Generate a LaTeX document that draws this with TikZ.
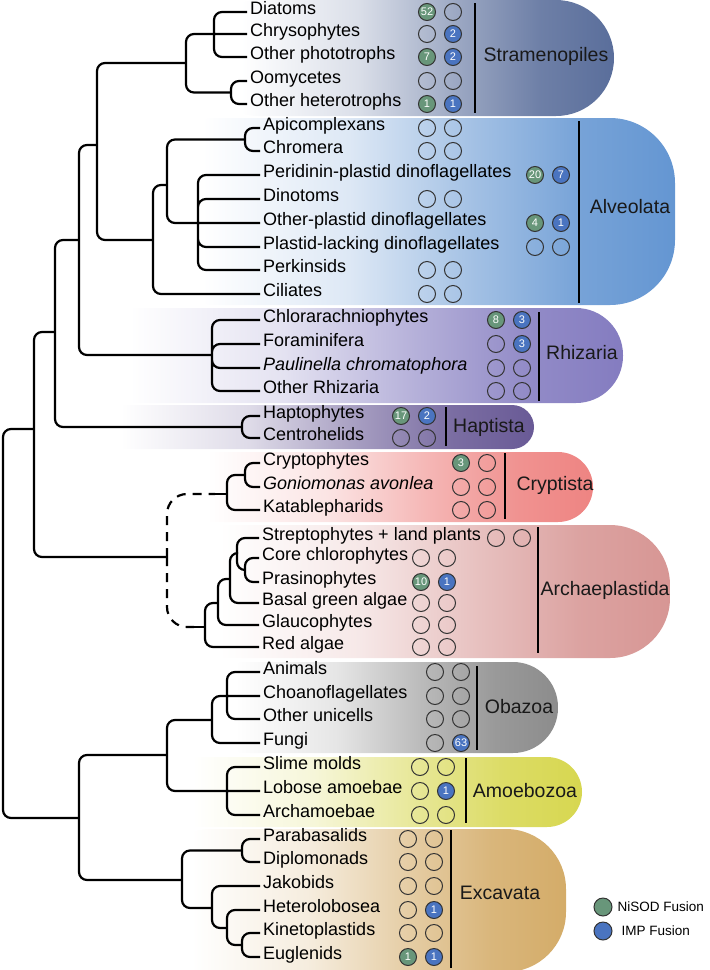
\documentclass[tikz,border=0pt]{standalone}
\usepackage{fontspec}
\setmainfont{Liberation Sans}
\usetikzlibrary{positioning}

\definecolor{nisodgreen}{RGB}{104,150,122}
\definecolor{impblue}{RGB}{74,116,192}
\definecolor{stramcol}{RGB}{90,110,155}
\definecolor{alvcol}{RGB}{100,150,210}
\definecolor{rhizcol}{RGB}{132,124,192}
\definecolor{haptcol}{RGB}{105,90,150}
\definecolor{cryptcol}{RGB}{238,132,130}
\definecolor{archcol}{RGB}{215,150,148}
\definecolor{obazcol}{RGB}{140,140,140}
\definecolor{amoecol}{RGB}{215,215,80}
\definecolor{exccol}{RGB}{212,172,105}

% white on the left, clade colour towards the rounded end
\pgfdeclarehorizontalshading[boxcol]{cladefade}{100bp}{color(0bp)=(white); color(30bp)=(white); color(44bp)=(boxcol!22!white); color(56bp)=(boxcol!60!white); color(66bp)=(boxcol!88!white); color(75bp)=(boxcol); color(100bp)=(boxcol)}

\tikzset{
    x=1pt, y=-1pt, % one unit is one pixel, y runs downwards
    branch/.style={line width=2.2pt, rounded corners=8pt}, % tree edges
    guess/.style={branch, rounded corners=20pt, dash pattern=on 9pt off 7pt}, % uncertain placement
    taxon/.style={anchor=mid west, inner xsep=3pt, inner ysep=0pt, font=\fontsize{18}{20}\selectfont},
    clade/.style={font=\fontsize{19.5}{22}\selectfont, text=black!90},
    bar/.style={line width=2.4pt},
    hit/.style={circle, draw=black!80, line width=1pt, minimum size=17pt, inner sep=0pt, text=white, font=\fontsize{11}{11}\selectfont},
    nohit/.style={hit},
    nisod/.style={hit, fill=nisodgreen},
    impf/.style={hit, fill=impblue},
}

% two marks after a taxon: NiSOD fusion, IMP fusion
\newcommand{\hits}[6]{%
    \node[#3] (#1n) at (#2) {#4};
    \node[#5, right=8pt of #1n] (#1i) {#6};
}
\newcommand{\cladebox}[4]{%
    \colorlet{boxcol}{#1}
    \shade[shading=cladefade, rounded corners=#4] (#2) rectangle (#3);
}

\begin{document}
\begin{tikzpicture}
\useasboundingbox (0,0) rectangle (710,970);

% clade boxes
\cladebox{stramcol}{200,0}{614,116}{58pt}
\cladebox{alvcol}{150,118}{675,305}{65pt}
\cladebox{rhizcol}{75,308}{623,403}{47pt}
\cladebox{haptcol}{75,405}{534,449}{22pt}
\cladebox{cryptcol}{165,452}{593,522}{35pt}
\cladebox{archcol}{170,525}{670,658}{60pt}
\cladebox{obazcol}{200,662}{558,753}{45pt}
\cladebox{amoecol}{150,757}{582,827}{35pt}
\cladebox{exccol}{150,829}{566,972}{60pt}

% taxa
\node[taxon] (diat) at (247,12) {Diatoms};
\node[taxon] (chry) at (247,34) {Chrysophytes};
\node[taxon] (opho) at (247,57) {Other phototrophs};
\node[taxon] (oomy) at (247,81) {Oomycetes};
\node[taxon] (ohet) at (247,104) {Other heterotrophs};
\node[taxon] (apic) at (260,128) {Apicomplexans};
\node[taxon] (chro) at (260,151) {Chromera};
\node[taxon] (peri) at (260,175) {Peridinin-plastid dinoflagellates};
\node[taxon] (dinot) at (260,199) {Dinotoms};
\node[taxon] (oplas) at (260,223) {Other-plastid dinoflagellates};
\node[taxon] (plac) at (260,247) {Plastid-lacking dinoflagellates};
\node[taxon] (perk) at (260,270) {Perkinsids};
\node[taxon] (cili) at (260,294) {Ciliates};
\node[taxon] (chlo) at (260,320) {Chlorarachniophytes};
\node[taxon] (fora) at (260,344) {Foraminifera};
\node[taxon] (paul) at (260,368) {\itshape Paulinella chromatophora};
\node[taxon] (orhi) at (260,391) {Other Rhizaria};
\node[taxon] (hapto) at (260,416) {Haptophytes};
\node[taxon] (cent) at (260,438) {Centrohelids};
\node[taxon] (cryp) at (260,463) {Cryptophytes};
\node[taxon] (goni) at (260,487) {\itshape Goniomonas avonlea};
\node[taxon] (kata) at (260,510) {Katablepharids};
\node[taxon] (strep) at (259,538) {Streptophytes + land plants};
\node[taxon] (core) at (259,558) {Core chlorophytes};
\node[taxon] (pras) at (259,582) {Prasinophytes};
\node[taxon] (basal) at (259,603) {Basal green algae};
\node[taxon] (glau) at (259,625) {Glaucophytes};
\node[taxon] (reda) at (259,647) {Red algae};
\node[taxon] (anim) at (260,672) {Animals};
\node[taxon] (choa) at (260,696) {Choanoflagellates};
\node[taxon] (ouni) at (260,719) {Other unicells};
\node[taxon] (fung) at (260,743) {Fungi};
\node[taxon] (slim) at (260,767) {Slime molds};
\node[taxon] (lobo) at (260,791) {Lobose amoebae};
\node[taxon] (arcm) at (260,815) {Archamoebae};
\node[taxon] (para) at (260,839) {Parabasalids};
\node[taxon] (dipl) at (260,862) {Diplomonads};
\node[taxon] (jako) at (260,886) {Jakobids};
\node[taxon] (hete) at (260,910) {Heterolobosea};
\node[taxon] (kine) at (260,933) {Kinetoplastids};
\node[taxon] (eugl) at (260,957) {Euglenids};

% inner nodes of the tree
\coordinate (root) at (3,623);
\coordinate (d1) at (34,429);
\coordinate (tsar) at (55,332);
\coordinate (sar) at (79,240);
\coordinate (sa) at (97,145);
\coordinate (stram) at (186,63);
\coordinate (photo) at (214,34);
\coordinate (hetero) at (231,92.5);
\coordinate (alv) at (153,240);
\coordinate (myz) at (167,185);
\coordinate (apichr) at (245,139.5);
\coordinate (dino) at (198,223);
\coordinate (rhiz) at (212,355);
\coordinate (hapt) at (242,427);
\coordinate (crar) at (167,557);
\coordinate (crstub) at (215,494);
\coordinate (crypt) at (227,494);
\coordinate (crgo) at (245,475);
\coordinate (arstub) at (194,627);
\coordinate (arch) at (205,627);
\coordinate (grgl) at (218,603);
\coordinate (green) at (230,579);
\coordinate (strchl) at (237,553);
\coordinate (chl) at (245,570);
\coordinate (ae) at (79,818);
\coordinate (amor) at (167,755);
\coordinate (obaz) at (212,720);
\coordinate (aco) at (227,696);
\coordinate (amoe) at (227,791);
\coordinate (exc) at (182,880);
\coordinate (pd) at (242,850.5);
\coordinate (disc) at (212,908);
\coordinate (dis2) at (227,928);
\coordinate (ke) at (242,945);

% tree
\draw[branch] (root) |- (d1) (root) |- (ae);
\draw[branch] (d1) |- (tsar) (d1) |- (crar);
\draw[branch] (tsar) |- (sar) (tsar) |- (hapt);
\draw[branch] (sar) |- (sa) (sar) |- (rhiz);
\draw[branch] (sa) |- (stram) (sa) |- (alv);
\draw[branch] (stram) |- (photo) (stram) |- (hetero);
\draw[branch] (photo) |- (diat.mid west) (photo) -- (chry.mid west) (photo) |- (opho.mid west);
\draw[branch] (hetero) |- (oomy.mid west) (hetero) |- (ohet.mid west);
\draw[branch] (alv) |- (myz) (alv) |- (cili.mid west);
\draw[branch] (myz) |- (apichr) (myz) |- (dino);
\draw[branch] (apichr) |- (apic.mid west) (apichr) |- (chro.mid west);
\draw[branch] (dino) |- (peri.mid west) (dino) |- (dinot.mid west) (dino) -- (oplas.mid west)
    (dino) |- (plac.mid west) (dino) |- (perk.mid west);
\draw[branch] (rhiz) |- (chlo.mid west) (rhiz) |- (fora.mid west) (rhiz) |- (paul.mid west) (rhiz) |- (orhi.mid west);
\draw[branch] (hapt) |- (hapto.mid west) (hapt) |- (cent.mid west);
\draw[guess] (crar) |- (crstub) (crar) |- (arstub);
\draw[branch] (crstub) -- (crypt) (arstub) -- (arch);
\draw[branch] (crypt) |- (crgo) (crypt) |- (kata.mid west);
\draw[branch] (crgo) |- (cryp.mid west) (crgo) |- (goni.mid west);
\draw[branch] (arch) |- (grgl) (arch) |- (reda.mid west);
\draw[branch] (grgl) |- (green) (grgl) |- (glau.mid west);
\draw[branch] (green) |- (strchl) (green) |- (basal.mid west);
\draw[branch] (strchl) |- (strep.mid west) (strchl) |- (chl);
\draw[branch] (chl) |- (core.mid west) (chl) |- (pras.mid west);
\draw[branch] (ae) |- (amor) (ae) |- (exc);
\draw[branch] (amor) |- (obaz) (amor) |- (amoe);
\draw[branch] (obaz) |- (aco) (obaz) |- (fung.mid west);
\draw[branch] (aco) |- (anim.mid west) (aco) -- (choa.mid west) (aco) |- (ouni.mid west);
\draw[branch] (amoe) |- (slim.mid west) (amoe) -- (lobo.mid west) (amoe) |- (arcm.mid west);
\draw[branch] (exc) |- (pd) (exc) |- (disc);
\draw[branch] (pd) |- (para.mid west) (pd) |- (dipl.mid west);
\draw[branch] (disc) |- (jako.mid west) (disc) |- (dis2);
\draw[branch] (dis2) |- (hete.mid west) (dis2) |- (ke);
\draw[branch] (ke) |- (kine.mid west) (ke) |- (eugl.mid west);

% fusion counts
\hits{diat}{427,12}{nisod}{52}{nohit}{}
\hits{chry}{427,34}{nohit}{}{impf}{2}
\hits{opho}{427,57}{nisod}{7}{impf}{2}
\hits{oomy}{427,81}{nohit}{}{nohit}{}
\hits{ohet}{427,104}{nisod}{1}{impf}{1}
\hits{apic}{427,128}{nohit}{}{nohit}{}
\hits{chro}{427,151}{nohit}{}{nohit}{}
\hits{peri}{535,175}{nisod}{20}{impf}{7}
\hits{dinot}{427,199}{nohit}{}{nohit}{}
\hits{oplas}{535,223}{nisod}{4}{impf}{1}
\hits{plac}{535,247}{nohit}{}{nohit}{}
\hits{perk}{427,270}{nohit}{}{nohit}{}
\hits{cili}{427,294}{nohit}{}{nohit}{}
\hits{chlo}{496,320}{nisod}{8}{impf}{3}
\hits{fora}{496,344}{nohit}{}{impf}{3}
\hits{paul}{496,368}{nohit}{}{nohit}{}
\hits{orhi}{496,391}{nohit}{}{nohit}{}
\hits{hapto}{401,416}{nisod}{17}{impf}{2}
\hits{cent}{401,438}{nohit}{}{nohit}{}
\hits{cryp}{461,463}{nisod}{3}{nohit}{}
\hits{goni}{461,487}{nohit}{}{nohit}{}
\hits{kata}{461,510}{nohit}{}{nohit}{}
\hits{strep}{496,538}{nohit}{}{nohit}{}
\hits{core}{421,558}{nohit}{}{nohit}{}
\hits{pras}{421,582}{nisod}{10}{impf}{1}
\hits{basal}{421,603}{nohit}{}{nohit}{}
\hits{glau}{421,625}{nohit}{}{nohit}{}
\hits{reda}{421,647}{nohit}{}{nohit}{}
\hits{anim}{435,672}{nohit}{}{nohit}{}
\hits{choa}{435,696}{nohit}{}{nohit}{}
\hits{ouni}{435,719}{nohit}{}{nohit}{}
\hits{fung}{435,743}{nohit}{}{impf}{63}
\hits{slim}{420,767}{nohit}{}{nohit}{}
\hits{lobo}{420,791}{nohit}{}{impf}{1}
\hits{arcm}{420,815}{nohit}{}{nohit}{}
\hits{para}{408,839}{nohit}{}{nohit}{}
\hits{dipl}{408,862}{nohit}{}{nohit}{}
\hits{jako}{408,886}{nohit}{}{nohit}{}
\hits{hete}{408,910}{nohit}{}{impf}{1}
\hits{kine}{408,933}{nohit}{}{nohit}{}
\hits{eugl}{408,957}{nisod}{1}{impf}{1}

% clade bars and names
\draw[bar] (475,3) -- (475,113);
\draw[bar] (579,121) -- (579,303);
\draw[bar] (539,312) -- (539,401);
\draw[bar] (446,407) -- (446,446);
\draw[bar] (505,453) -- (505,519);
\draw[bar] (538,527) -- (538,653);
\draw[bar] (477,666) -- (477,750);
\draw[bar] (466,758) -- (466,823);
\draw[bar] (451,830) -- (451,968);
\node[clade] (stramname) at (546,56) {Stramenopiles};
\node[clade] (alvname) at (630,207) {Alveolata};
\node[clade] (rhizname) at (582,353) {Rhizaria};
\node[clade] (haptname) at (489,427) {Haptista};
\node[clade] (cryptname) at (555,485) {Cryptista};
\node[clade] (archname) at (605,590) {Archaeplastida};
\node[clade] (obazname) at (519,707) {Obazoa};
\node[clade] (amoename) at (525,791) {Amoebozoa};
\node[clade] (excname) at (500,893) {Excavata};

% legend
\node[nisod, minimum size=18pt] (keyn) at (603,907) {};
\node[anchor=west, font=\fontsize{13.5}{15}\selectfont] (keynt) at (614,907) {NiSOD Fusion};
\node[impf, minimum size=18pt] (keyi) at (603,931) {};
\node[anchor=west, font=\fontsize{13.5}{15}\selectfont] (keyit) at (618,931) {IMP Fusion};
\end{tikzpicture}
\end{document}
